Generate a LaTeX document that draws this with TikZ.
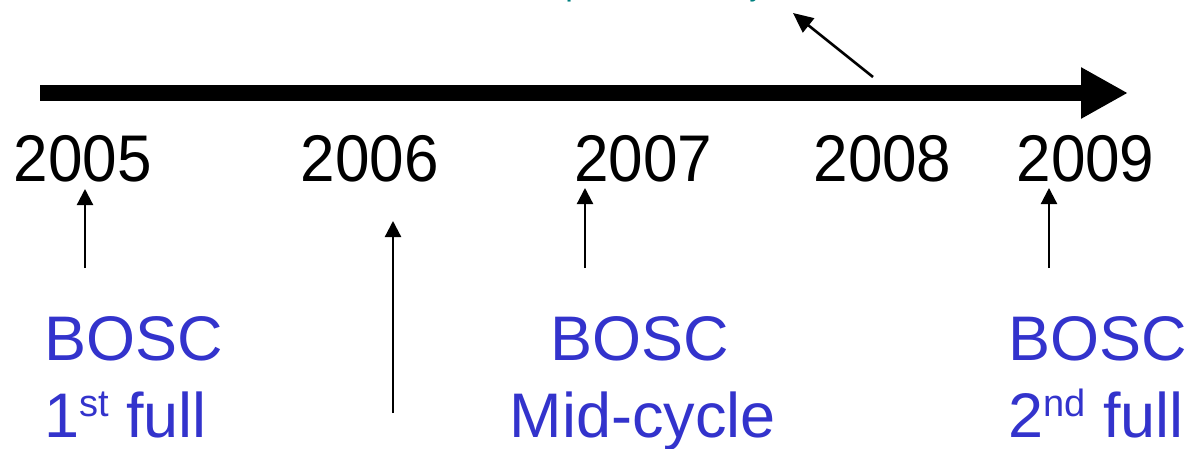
\documentclass[tikz,border=0pt]{standalone}
\usepackage{fontspec}
\setmainfont{Liberation Sans}
\usetikzlibrary{arrows.meta}
\definecolor{bosc}{RGB}{51,51,204}
\definecolor{tealtxt}{RGB}{0,128,128}
\tikzset{
  year/.style={anchor=base, inner sep=0pt, font=\fontsize{66}{66}\selectfont},
  bosctxt/.style={inner sep=0pt, text=bosc, font=\fontsize{63}{63}\selectfont},
  smallarrow/.style={line width=2.2pt, -{Triangle[length=16pt,width=16pt]}},
  bigarrow/.style={line width=16pt, -{Triangle[length=47pt,width=48pt]}},
}
\newcommand{\sqz}[1]{\scalebox{0.94}[1]{#1}}
\newcommand{\supr}[1]{\raisebox{21pt}{\fontsize{38}{38}\selectfont #1}}
\begin{document}
\begin{tikzpicture}[x=1pt,y=-1pt]
\useasboundingbox (0,0) rectangle (1190,449);
\clip (0,0) rectangle (1190,449);
% teal caption (cut off at the top)
\node[anchor=base west, inner sep=0pt, text=tealtxt, font=\bfseries\fontsize{22}{22}\selectfont] (cap) at (517,-2) {Comprehensive Survey};
% main time line
\coordinate (tls) at (40,93);
\coordinate (tle) at (1128,93);
\draw[bigarrow] (tls) -- (tle);
% years
\node[year] (y5) at (83,182) {\sqz{2005}};
\node[year] (y6) at (370,182) {\sqz{2006}};
\node[year] (y7) at (643.5,182) {\sqz{2007}};
\node[year] (y8) at (882.5,182) {\sqz{2008}};
\node[year] (y9) at (1085.5,182) {\sqz{2009}};
% arrows
\coordinate (a5b) at (85,268);   \coordinate (a5t) at (85,189);
\coordinate (a6b) at (393,413);  \coordinate (a6t) at (393,221);
\coordinate (a7b) at (585,268);  \coordinate (a7t) at (585,188);
\coordinate (a9b) at (1049,268); \coordinate (a9t) at (1049,188);
\draw[smallarrow] (a5b) -- (a5t);
\draw[smallarrow] (a6b) -- (a6t);
\draw[smallarrow] (a7b) -- (a7t);
\draw[smallarrow] (a9b) -- (a9t);
\coordinate (d8) at (873,77);
\coordinate (dt) at (793,13);
\draw[line width=2.6pt, -{Triangle[length=20pt,width=18pt]}] (d8) -- (dt);
% BOSC labels
\node[bosctxt, anchor=base west] (b1) at (44,360) {BOSC};
\node[bosctxt, anchor=base west] (b1b) at (44,437) {1\supr{st} full};
\node[bosctxt, anchor=base] (b2) at (640,360) {BOSC};
\node[bosctxt, anchor=base] (b2b) at (643,437) {Mid-cycle};
\node[bosctxt, anchor=base west] (b3) at (1008,360) {BOSC};
\node[bosctxt, anchor=base west] (b3b) at (1008,437) {2\supr{nd} full};
\end{tikzpicture}
\end{document}
